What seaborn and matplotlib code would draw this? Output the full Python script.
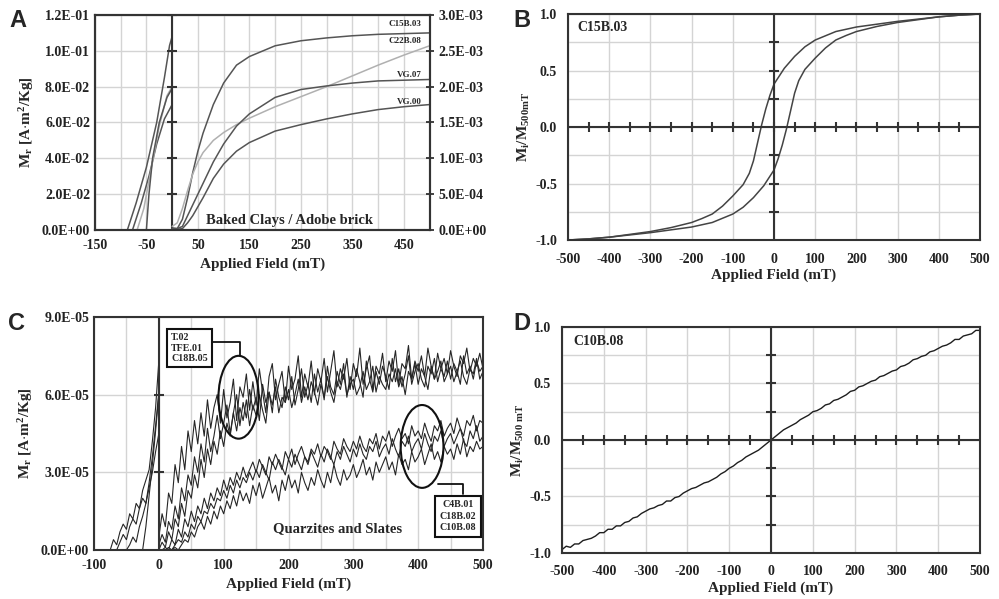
import numpy as np
import matplotlib
matplotlib.use("Agg")
import matplotlib.pyplot as plt
from matplotlib.patches import Ellipse
from matplotlib.ticker import FuncFormatter
import seaborn as sns

# ---------------- data ----------------
# Panel A  (left branch on left axis, right branch on right axis)
a_left_x = {
    "c15": [-87, -70, -50, -30, -15, -5, 0],
    "vg07": [-77, -60, -45, -30, -15, 0],
    "c22": [-68, -55, -40, -25, -10, 0],
    "vg00": [-50, -45, -38, -25, -10, 0],
}
a_left_y = {
    "c15": [0, 0.015, 0.035, 0.06, 0.085, 0.103, 0.108],
    "vg07": [0, 0.015, 0.03, 0.048, 0.062, 0.07],
    "c22": [0, 0.012, 0.035, 0.058, 0.075, 0.08],
    "vg00": [0, 0.02, 0.04, 0.06, 0.074, 0.079],
}
a_right_x = {
    "c15": [0, 10, 20, 30, 40, 50, 60, 80, 100, 125, 150, 200, 250, 300, 350, 400, 450, 500],
    "c22": [0, 10, 20, 30, 40, 50, 60, 80, 100, 125, 150, 200, 250, 300, 350, 400, 450, 500],
    "vg07": [0, 10, 20, 30, 40, 60, 80, 100, 125, 150, 200, 250, 300, 350, 400, 450, 500],
    "vg00": [0, 10, 20, 30, 40, 60, 80, 100, 125, 150, 200, 250, 300, 350, 400, 450, 500],
}
a_right_y = {  # x 1e-3
    "c15": [0.02, 0.02, 0.15, 0.45, 0.8, 1.1, 1.35, 1.75, 2.05, 2.3, 2.42, 2.57, 2.64, 2.68, 2.71, 2.73, 2.74, 2.75],
    "c22": [0.05, 0.1, 0.3, 0.55, 0.78, 0.95, 1.08, 1.25, 1.36, 1.47, 1.56, 1.72, 1.86, 2.0, 2.15, 2.3, 2.44, 2.57],
    "vg07": [0.03, 0.02, 0.05, 0.2, 0.35, 0.65, 0.95, 1.2, 1.45, 1.62, 1.85, 1.96, 2.01, 2.05, 2.08, 2.09, 2.1],
    "vg00": [0.02, 0.01, 0.02, 0.1, 0.2, 0.45, 0.72, 0.92, 1.1, 1.22, 1.38, 1.47, 1.55, 1.62, 1.68, 1.72, 1.75],
}
a_names = {"c15": "C15B.03", "c22": "C22B.08", "vg07": "VG.07", "vg00": "VG.00"}
a_label_y = {"c15": 2.87e-3, "c22": 2.64e-3, "vg07": 2.16e-3, "vg00": 1.79e-3}
a_colors = {"c15": "#555555", "c22": "#b0b0b0", "vg07": "#555555", "vg00": "#555555"}

# Panel B  hysteresis loop C15B.03
b_up_x = [-500, -450, -400, -350, -300, -250, -200, -150, -100, -75, -50, -25, 0, 10, 20, 30, 40,
          50, 60, 75, 90, 100, 125, 150, 175, 200, 250, 300, 350, 400, 450, 500]
b_up_y = [-1.0, -0.99, -0.975, -0.955, -0.935, -0.91, -0.885, -0.845, -0.77, -0.71, -0.625, -0.52, -0.38,
          -0.28, -0.16, -0.02, 0.14, 0.3, 0.41, 0.51, 0.57, 0.61, 0.7, 0.77, 0.81, 0.845, 0.89, 0.925,
          0.95, 0.975, 0.99, 1.0]
b_dn_x = [500, 450, 400, 350, 300, 250, 200, 150, 100, 75, 50, 25, 0, -10, -20, -30, -40,
          -50, -60, -75, -90, -100, -125, -150, -175, -200, -250, -300, -350, -400, -450, -500]
b_dn_y = [1.0, 0.99, 0.975, 0.955, 0.935, 0.91, 0.885, 0.845, 0.77, 0.71, 0.625, 0.52, 0.38,
          0.28, 0.16, 0.02, -0.14, -0.3, -0.41, -0.51, -0.57, -0.61, -0.7, -0.77, -0.81, -0.845, -0.89,
          -0.925, -0.95, -0.975, -0.99, -1.0]

# Panel C  (values in 1e-6 A.m2/Kg), field step 5 mT from 0 to 500
c_field = list(range(0, 501, 5))
c_t02 = [5, 14, 9, 22, 18, 33, 26, 40, 31, 46,
         38, 50, 41, 53, 44, 58, 47, 55, 60, 49,
         62, 51, 57, 66, 50, 63, 59, 68, 54, 65,
         56, 70, 61, 53, 67, 72, 58, 64, 69, 57,
         71, 62, 66, 75, 59, 68, 63, 73, 60, 70,
         65, 74, 61, 69, 77, 63, 70, 66, 74, 62,
         72, 67, 78, 64, 70, 75, 62, 71, 68, 76,
         65, 73, 69, 77, 64, 72, 70, 79, 66, 73,
         69, 75, 67, 78, 71, 66, 76, 70, 74, 68,
         77, 71, 67, 75, 72, 78, 69, 74, 71, 76, 70]
c_tfe01 = [2, 6, 3, 11, 8, 17, 12, 24, 19, 29,
           25, 36, 30, 41, 34, 47, 38, 44, 52, 43,
           49, 56, 45, 53, 60, 48, 57, 51, 62, 54,
           59, 50, 64, 57, 61, 53, 66, 59, 55, 63,
           58, 67, 56, 62, 70, 59, 64, 57, 68, 61,
           66, 58, 71, 63, 60, 69, 64, 72, 59, 67,
           62, 70, 65, 59, 73, 66, 61, 69, 64, 71,
           67, 62, 74, 65, 70, 63, 68, 75, 64, 69,
           72, 66, 63, 71, 68, 74, 65, 70, 67, 73,
           66, 72, 69, 64, 75, 68, 71, 66, 73, 69, 71]
c_c18b05 = [0, 3, 1, 7, 4, 12, 9, 18, 13, 23,
            20, 29, 24, 35, 28, 39, 33, 42, 37, 46,
            40, 49, 44, 53, 46, 55, 50, 58, 48, 56,
            52, 60, 54, 49, 61, 56, 63, 53, 59, 57,
            62, 55, 60, 66, 57, 63, 58, 65, 61, 56,
            64, 59, 67, 61, 57, 65, 62, 68, 60, 64,
            66, 60, 63, 69, 62, 65, 71, 61, 67, 64,
            62, 68, 65, 70, 63, 67, 60, 69, 66, 72,
            64, 70, 67, 62, 71, 66, 69, 73, 65, 68,
            71, 65, 69, 73, 67, 64, 70, 68, 74, 66, 69]
c_c4b01 = [0, 0, 1, 0, 4, 2, 8, 5, 12, 9,
           15, 11, 17, 14, 20, 16, 22, 19, 24, 21,
           27, 23, 28, 25, 30, 27, 32, 28, 31, 34,
           30, 35, 32, 29, 36, 33, 37, 34, 31, 38,
           35, 39, 33, 37, 40, 36, 34, 39, 37, 41,
           36, 40, 38, 35, 42, 39, 37, 43, 40, 38,
           42, 39, 44, 40, 38, 43, 41, 45, 39, 44,
           42, 46, 40, 44, 47, 43, 45, 41, 48, 44,
           46, 43, 49, 45, 42, 48, 46, 50, 44, 47,
           49, 45, 51, 47, 44, 50, 48, 52, 46, 50, 49]
c_c18b02 = [0, 0, 0, 1, 0, 2, 4, 3, 7, 5,
            10, 8, 13, 11, 15, 14, 18, 16, 20, 19,
            23, 20, 25, 22, 27, 24, 28, 26, 30, 27,
            31, 28, 33, 30, 27, 34, 31, 35, 32, 29,
            35, 32, 37, 34, 31, 36, 33, 38, 35, 32,
            37, 34, 39, 36, 33, 38, 35, 40, 37, 34,
            39, 36, 41, 37, 35, 40, 38, 42, 36, 39,
            41, 37, 43, 39, 36, 42, 40, 44, 38, 41,
            43, 39, 45, 41, 38, 44, 42, 46, 40, 43,
            45, 41, 44, 47, 42, 40, 46, 43, 48, 42, 44]
c_c10b08 = [0, 0, 0, 0, 0, 1, 0, 2, 4, 3,
            7, 5, 9, 11, 8, 13, 10, 15, 12, 17,
            14, 19, 16, 21, 17, 23, 19, 22, 18, 25,
            21, 26, 20, 24, 28, 22, 25, 19, 27, 23,
            29, 24, 27, 22, 30, 26, 23, 28, 25, 31,
            27, 24, 30, 26, 33, 28, 25, 31, 27, 29,
            33, 28, 31, 35, 29, 32, 27, 34, 30, 33,
            36, 31, 34, 29, 37, 33, 35, 31, 38, 34,
            36, 39, 33, 37, 41, 35, 38, 34, 40, 37,
            39, 35, 41, 37, 43, 36, 40, 38, 42, 39, 40]
# negative-field branches (1e-6)
c_neg_x = [list(range(-75, 1, 5)), list(range(-65, 1, 5)), list(range(-50, 1, 5)), list(range(-25, 1, 5))]
c_neg_y = [[0, 4, 2, 7, 10, 8, 14, 12, 18, 16, 23, 27, 31, 42, 55, 73],
           [0, 3, 6, 4, 9, 12, 10, 16, 20, 18, 26, 36, 48, 61],
           [0, 2, 5, 3, 9, 13, 18, 24, 30, 38, 45],
           [0, 9, 21, 33, 46, 60]]

# Panel D  C10B.08 (values x 0.01), field step 10 mT
d_field = list(range(-500, 501, 10))
d_m = [-97, -94, -95, -92, -92, -89, -88, -87, -85, -82,
       -82, -79, -79, -76, -76, -73, -72, -69, -68, -65,
       -63, -61, -60, -58, -57, -54, -54, -51, -50, -47,
       -45, -43, -42, -40, -38, -37, -35, -33, -30, -28,
       -25, -23, -20, -18, -15, -13, -11, -9, -6, -3,
       0, 3, 6, 9, 11, 13, 15, 18, 20, 22,
       25, 26, 28, 31, 32, 35, 36, 38, 40, 43,
       44, 47, 48, 50, 52, 53, 56, 57, 59, 61,
       62, 65, 66, 68, 71, 72, 74, 75, 78, 79,
       81, 83, 84, 86, 89, 89, 92, 93, 94, 97, 97]

# ---------------- style ----------------
sns.set_style("white")
plt.rcParams["font.family"] = ["Liberation Serif", "DejaVu Serif"]
plt.rcParams["font.weight"] = "bold"
plt.rcParams["axes.unicode_minus"] = False
plt.rcParams["mathtext.fontset"] = "custom"
plt.rcParams["mathtext.rm"] = "Liberation Serif:bold"
plt.rcParams["mathtext.it"] = "Liberation Serif:bold"
plt.rcParams["mathtext.default"] = "rm"

GRID = "#d4d4d4"
SPINE = "#333333"
sci = FuncFormatter(lambda v, p: f"{v:.1E}")


def frame(ax):
    for s in ax.spines.values():
        s.set_color(SPINE)
        s.set_linewidth(1.5)
    ax.tick_params(labelsize=10, colors="#222222")


def panel_letter(fig, x, y, s):
    fig.text(x, y, s, fontsize=17, fontweight="bold", family="Liberation Sans", va="center", ha="center")


fig = plt.figure(figsize=(9.99, 5.99), dpi=100)

# ---------------- Panel A ----------------
axA = fig.add_axes([0.095, 0.616, 0.335, 0.359])
axA.set_xlim(-150, 500)
axA.set_ylim(0, 0.12)
axA.set_xticks(range(-150, 501, 100))
axA.set_xticks(range(-100, 501, 100), minor=True)
axA.set_yticks(np.arange(0, 0.1201, 0.02))
axA.yaxis.set_major_formatter(sci)
axA.grid(True, which="both", color=GRID, lw=1)
axA.set_axisbelow(True)
axA.tick_params(axis="x", which="both", direction="inout", length=6, width=1.2, color=SPINE)
axA.tick_params(axis="y", direction="inout", length=0)
for k in a_left_x:
    sns.lineplot(x=a_left_x[k], y=a_left_y[k], ax=axA, color=a_colors[k], lw=1.1, sort=False, estimator=None)
axA.axvline(0, color=SPINE, lw=1.5)
yt = np.arange(0.02, 0.1201, 0.02)
axA.plot(np.zeros_like(yt), yt, ls="none", marker="_", ms=7, mew=1.5, color=SPINE)
axA.set_xlabel("Applied Field (mT)", fontsize=11, fontweight="bold")
axA.set_ylabel(r"M$_{r}$ [A$\cdot$m$^{2}$/Kg]", fontsize=11, fontweight="bold", labelpad=4)
frame(axA)
axA2 = axA.twinx()
axA2.set_ylim(0, 3e-3)
axA2.set_yticks(np.arange(0, 3.001e-3, 5e-4))
axA2.yaxis.set_major_formatter(sci)
axA2.tick_params(axis="y", direction="inout", length=6, width=1.2, color=SPINE)
for k in a_right_x:
    sns.lineplot(x=a_right_x[k], y=np.array(a_right_y[k]) * 1e-3, ax=axA2, color=a_colors[k], lw=1.1,
                 sort=False, estimator=None)
    axA2.text(485, a_label_y[k], a_names[k], fontsize=6.5, ha="right", va="center", fontweight="bold")
axA2.text(0.58, 0.045, "Baked Clays / Adobe brick", transform=axA2.transAxes, fontsize=10.5,
          ha="center", va="center", fontweight="bold")
axA2.set_ylabel("")
frame(axA2)
axA.set_xlim(-150, 500)

# ---------------- Panel B ----------------
axB = fig.add_axes([0.5686, 0.5993, 0.4124, 0.3773])
axB.set_xlim(-500, 500)
axB.set_ylim(-1, 1)
axB.set_xticks(range(-500, 501, 100))
axB.set_yticks([-1, -0.5, 0, 0.5, 1])
axB.set_yticks([-0.75, -0.25, 0.25, 0.75], minor=True)
axB.yaxis.set_major_formatter(FuncFormatter(lambda v, p: f"{v:.1f}"))
axB.grid(True, which="both", color=GRID, lw=1)
axB.set_axisbelow(True)
axB.tick_params(which="both", length=0)
axB.tick_params(axis="x", pad=9)
axB.tick_params(axis="y", pad=8)
sns.lineplot(x=b_up_x, y=b_up_y, ax=axB, color="#444444", lw=1.1, sort=False, estimator=None)
sns.lineplot(x=b_dn_x, y=b_dn_y, ax=axB, color="#444444", lw=1.1, sort=False, estimator=None)
axB.axhline(0, color=SPINE, lw=1.5)
axB.axvline(0, color=SPINE, lw=1.5)
xt = np.arange(-450, 451, 50)
axB.plot(xt, np.zeros_like(xt), ls="none", marker="|", ms=7, mew=1.5, color=SPINE)
ytb = np.array([-0.75, -0.5, -0.25, 0.25, 0.5, 0.75])
axB.plot(np.zeros_like(ytb), ytb, ls="none", marker="_", ms=7, mew=1.5, color=SPINE)
axB.text(0.022, 0.94, "C15B.03", transform=axB.transAxes, fontsize=10, fontweight="bold", va="center")
axB.set_xlabel("Applied Field (mT)", fontsize=11, fontweight="bold", labelpad=2)
axB.set_ylabel(r"M$_{i}$/M$_{500mT}$", fontsize=11, fontweight="bold", labelpad=2)
frame(axB)

# ---------------- Panel C ----------------
axC = fig.add_axes([0.0941, 0.0818, 0.3894, 0.389])
axC.set_xlim(-100, 500)
axC.set_ylim(0, 9e-5)
axC.set_xticks(range(-100, 501, 100))
axC.set_xticks(range(-50, 501, 100), minor=True)
axC.set_yticks([0, 3e-5, 6e-5, 9e-5])
axC.yaxis.set_major_formatter(sci)
axC.grid(True, which="both", color=GRID, lw=1)
axC.set_axisbelow(True)
axC.tick_params(axis="x", which="both", direction="inout", length=6, width=1.2, color=SPINE)
axC.tick_params(axis="y", length=0)
for ser in [c_t02, c_tfe01, c_c18b05, c_c4b01, c_c18b02, c_c10b08]:
    sns.lineplot(x=c_field, y=np.array(ser) * 1e-6, ax=axC, color="#262626", lw=0.8, sort=False, estimator=None)
for nx, ny in zip(c_neg_x, c_neg_y):
    sns.lineplot(x=nx, y=np.array(ny) * 1e-6, ax=axC, color="#262626", lw=0.8, sort=False, estimator=None)
axC.axvline(0, color=SPINE, lw=1.5)
ytc = np.array([3e-5, 6e-5])
axC.plot(np.zeros_like(ytc), ytc, ls="none", marker="_", ms=7, mew=1.5, color=SPINE)
# annotations
axC.add_patch(Ellipse((123, 5.9e-5), 62, 3.2e-5, fill=False, lw=1.5, ec="#111111", zorder=5))
axC.add_patch(Ellipse((406, 4.0e-5), 66, 3.2e-5, fill=False, lw=1.5, ec="#111111", zorder=5))
axC.plot([80, 125, 125], [8.03e-5, 8.03e-5, 7.5e-5], color="#111111", lw=1.3, zorder=5)
axC.plot([430, 469, 469], [2.55e-5, 2.55e-5, 2.16e-5], color="#111111", lw=1.3, zorder=5)
axC.text(19, 7.8e-5, "T.02\nTFE.01\nC18B.05", fontsize=7.2, fontweight="bold", va="center", ha="left",
         linespacing=1.25, zorder=6,
         bbox=dict(boxstyle="square,pad=0.4", fc="white", ec="#111111", lw=1.5))
axC.text(461, 1.3e-5, "C4B.01\nC18B.02\nC10B.08", fontsize=7.2, fontweight="bold", va="center", ha="center",
         linespacing=1.35, zorder=6,
         bbox=dict(boxstyle="square,pad=0.45", fc="white", ec="#111111", lw=1.5))
axC.text(0.627, 0.09, "Quarzites and Slates", transform=axC.transAxes, fontsize=10.5, ha="center",
         va="center", fontweight="bold")
axC.set_xlabel("Applied Field (mT)", fontsize=11, fontweight="bold")
axC.set_ylabel(r"M$_{r}$ [A$\cdot$m$^{2}$/Kg]", fontsize=11, fontweight="bold", labelpad=4)
frame(axC)

# ---------------- Panel D ----------------
axD = fig.add_axes([0.5626, 0.0768, 0.4184, 0.3773])
axD.set_xlim(-500, 500)
axD.set_ylim(-1, 1)
axD.set_xticks(range(-500, 501, 100))
axD.set_yticks([-1, -0.5, 0, 0.5, 1])
axD.set_yticks([-0.75, -0.25, 0.25, 0.75], minor=True)
axD.yaxis.set_major_formatter(FuncFormatter(lambda v, p: f"{v:.1f}"))
axD.grid(True, which="both", color=GRID, lw=1)
axD.set_axisbelow(True)
axD.tick_params(which="both", length=0)
axD.tick_params(axis="x", pad=9)
axD.tick_params(axis="y", pad=8)
sns.lineplot(x=d_field, y=np.array(d_m) / 100, ax=axD, color="#1e1e1e", lw=1.0, sort=False, estimator=None)
axD.axhline(0, color=SPINE, lw=1.5)
axD.axvline(0, color=SPINE, lw=1.5)
axD.plot(xt, np.zeros_like(xt), ls="none", marker="|", ms=7, mew=1.5, color=SPINE)
axD.plot(np.zeros_like(ytb), ytb, ls="none", marker="_", ms=7, mew=1.5, color=SPINE)
axD.text(0.026, 0.934, "C10B.08", transform=axD.transAxes, fontsize=10, fontweight="bold", va="center")
axD.set_xlabel("Applied Field (mT)", fontsize=11, fontweight="bold", labelpad=2)
axD.set_ylabel(r"M$_{i}$/M$_{500\ mT}$", fontsize=11, fontweight="bold", labelpad=2)
frame(axD)

panel_letter(fig, 0.018, 0.965, "A")
panel_letter(fig, 0.522, 0.965, "B")
panel_letter(fig, 0.017, 0.46, "C")
panel_letter(fig, 0.522, 0.46, "D")

fig.savefig("out.png", dpi=100)
